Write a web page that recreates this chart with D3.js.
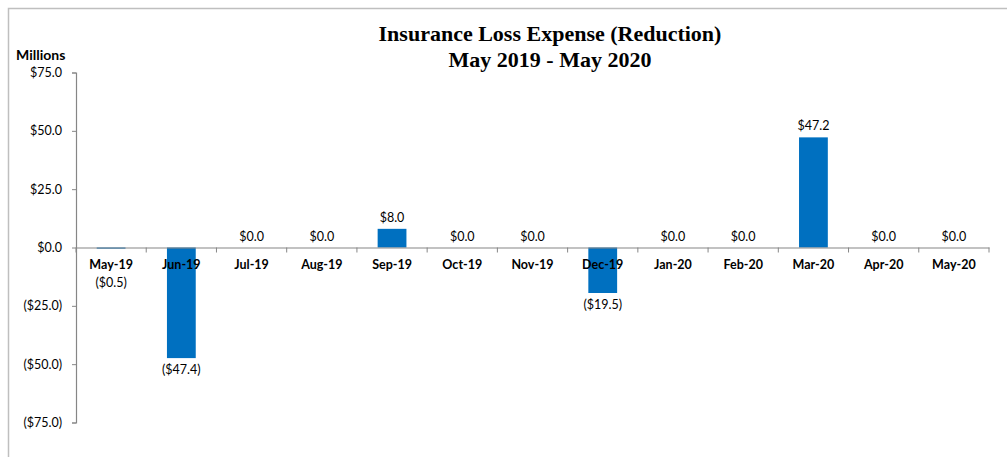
<!DOCTYPE html>
<html><head><meta charset="utf-8">
<script src="https://cdn.jsdelivr.net/npm/d3@7"></script>
<style>body{margin:0;background:#fff}svg{display:block}</style>
</head><body>
<svg id="c" width="1007" height="457"></svg>
<script>
const categories = ["May-19","Jun-19","Jul-19","Aug-19","Sep-19","Oct-19","Nov-19","Dec-19","Jan-20","Feb-20","Mar-20","Apr-20","May-20"];
const values = [-0.5,-47.4,0,0,8.0,0,0,-19.5,0,0,47.2,0,0];
const yTicks = [75,50,25,0,-25,-50,-75];
const titleLines = ["Insurance Loss Expense (Reduction)","May 2019 - May 2020"];

const svg = d3.select("#c");
const fmt = v => { const s = "$" + Math.abs(v).toFixed(1); return v < -0.001 ? "(" + s + ")" : s; };

svg.append("rect").attr("x",8.5).attr("y",8.5).attr("width",1100).attr("height",500)
  .attr("fill","none").attr("stroke","#bfbfbf").attr("stroke-width",1.5);

const x = d3.scaleBand().domain(categories).range([76,989]).paddingInner(0.59).paddingOuter(0.295);
const y = d3.scaleLinear().domain([-75,75]).range([422.5,72.5]);

// title
svg.append("text").attr("x",550).attr("y",0).attr("text-anchor","middle")
  .attr("font-family","'Liberation Serif','Times New Roman',serif").attr("font-weight","bold").attr("font-size",22)
  .selectAll("tspan").data(titleLines).join("tspan").attr("x",550).attr("y",(d,i)=>41+i*25.5).text(d=>d);

svg.append("text").attr("x",16).attr("y",60).attr("font-family","Lato,'Open Sans',sans-serif")
  .attr("font-weight","bold").attr("font-size",14).text("Millions");

// y axis
const ya = svg.append("g").attr("transform","translate(76,0)")
  .call(d3.axisLeft(y).tickValues(yTicks).tickSize(4).tickPadding(10).tickFormat(fmt));
ya.select(".domain").attr("stroke","#868686").attr("stroke-width",1.2);
ya.selectAll(".tick line").attr("stroke","#868686");
ya.selectAll("text").attr("font-family","Lato,'Open Sans',sans-serif").attr("font-size",12.5).attr("fill","#000");

// bars
svg.append("g").selectAll("rect").data(values).join("rect")
  .attr("x",(d,i)=>x(categories[i])).attr("width",x.bandwidth())
  .attr("y",d=>y(Math.max(0,d))).attr("height",d=>Math.abs(y(d)-y(0)))
  .attr("fill","#0070C0");

// x axis
const xa = svg.append("g").attr("transform",`translate(0,${y(0)})`)
  .call(d3.axisBottom(x).tickSizeInner(0).tickSizeOuter(0).tickPadding(13));
xa.select(".domain").attr("stroke","#868686").attr("stroke-width",1.2);
xa.selectAll(".tick line").remove();
const step = x.step();
xa.append("g").selectAll("line").data(d3.range(categories.length+1)).join("line")
  .attr("x1",i=>76+i*step).attr("x2",i=>76+i*step).attr("y1",0).attr("y2",5)
  .attr("stroke","#868686");
xa.selectAll(".tick text").attr("font-family","Lato,'Open Sans',sans-serif").attr("font-weight","bold")
  .attr("font-size",12.5).attr("fill","#000");

// data labels
svg.append("g").selectAll("text").data(values).join("text")
  .attr("x",(d,i)=>x(categories[i])+x.bandwidth()/2)
  .attr("y",d=> d < 0 ? Math.max(y(d)+16, 287) : y(d)-7)
  .attr("text-anchor","middle").attr("font-family","Lato,'Open Sans',sans-serif")
  .attr("font-size",12.5).attr("fill","#000").text(fmt);
</script>
</body></html>
